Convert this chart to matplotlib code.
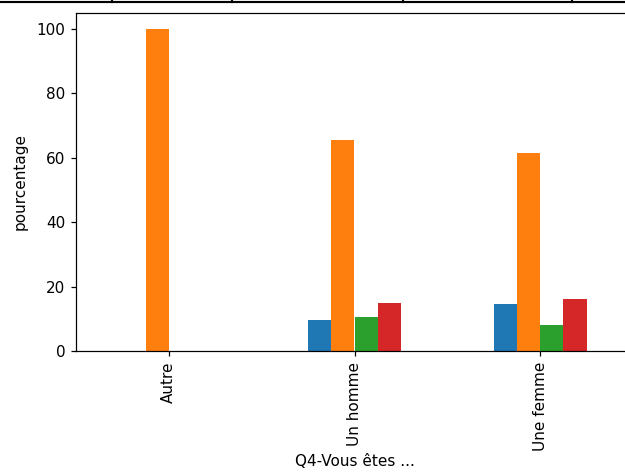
import matplotlib
matplotlib.use('Agg')
import matplotlib.pyplot as plt
import pandas as pd
from matplotlib.lines import Line2D

categories = ['Autre', 'Un homme', 'Une femme']
serie_1 = [0.0, 9.6, 14.5]
serie_2 = [100.0, 65.6, 61.6]
serie_3 = [0.0, 10.5, 8.2]
serie_4 = [0.0, 14.9, 16.3]

df = pd.DataFrame(
    {'s1': serie_1, 's2': serie_2, 's3': serie_3, 's4': serie_4},
    index=pd.Index(categories, name='Q4-Vous êtes ...'),
)

dpi = 110
fig = plt.figure(figsize=(625 / dpi, 474 / dpi), dpi=dpi)
# axes runs past the right edge (the reference is a cropped screenshot)
ax = fig.add_axes([76 / 625, 123 / 474, 557 / 625, 338 / 474])
df.plot.bar(ax=ax, legend=False)
ax.set_ylim(0, 105)
ax.set_ylabel('pourcentage', labelpad=6)
ax.set_xlabel('Q4-Vous êtes ...', labelpad=2)

# bit of a notebook table border visible at the very top
y_top = 1 - 2 / 474
fig.add_artist(Line2D([0, 1], [y_top, y_top], color='black', lw=1.4,
                      transform=fig.transFigure))
for xp in [112, 232, 403, 572]:
    fig.add_artist(Line2D([xp / 625, xp / 625], [y_top, 1], color='black',
                          lw=1.4, transform=fig.transFigure))

fig.savefig('out.png', dpi=dpi)
